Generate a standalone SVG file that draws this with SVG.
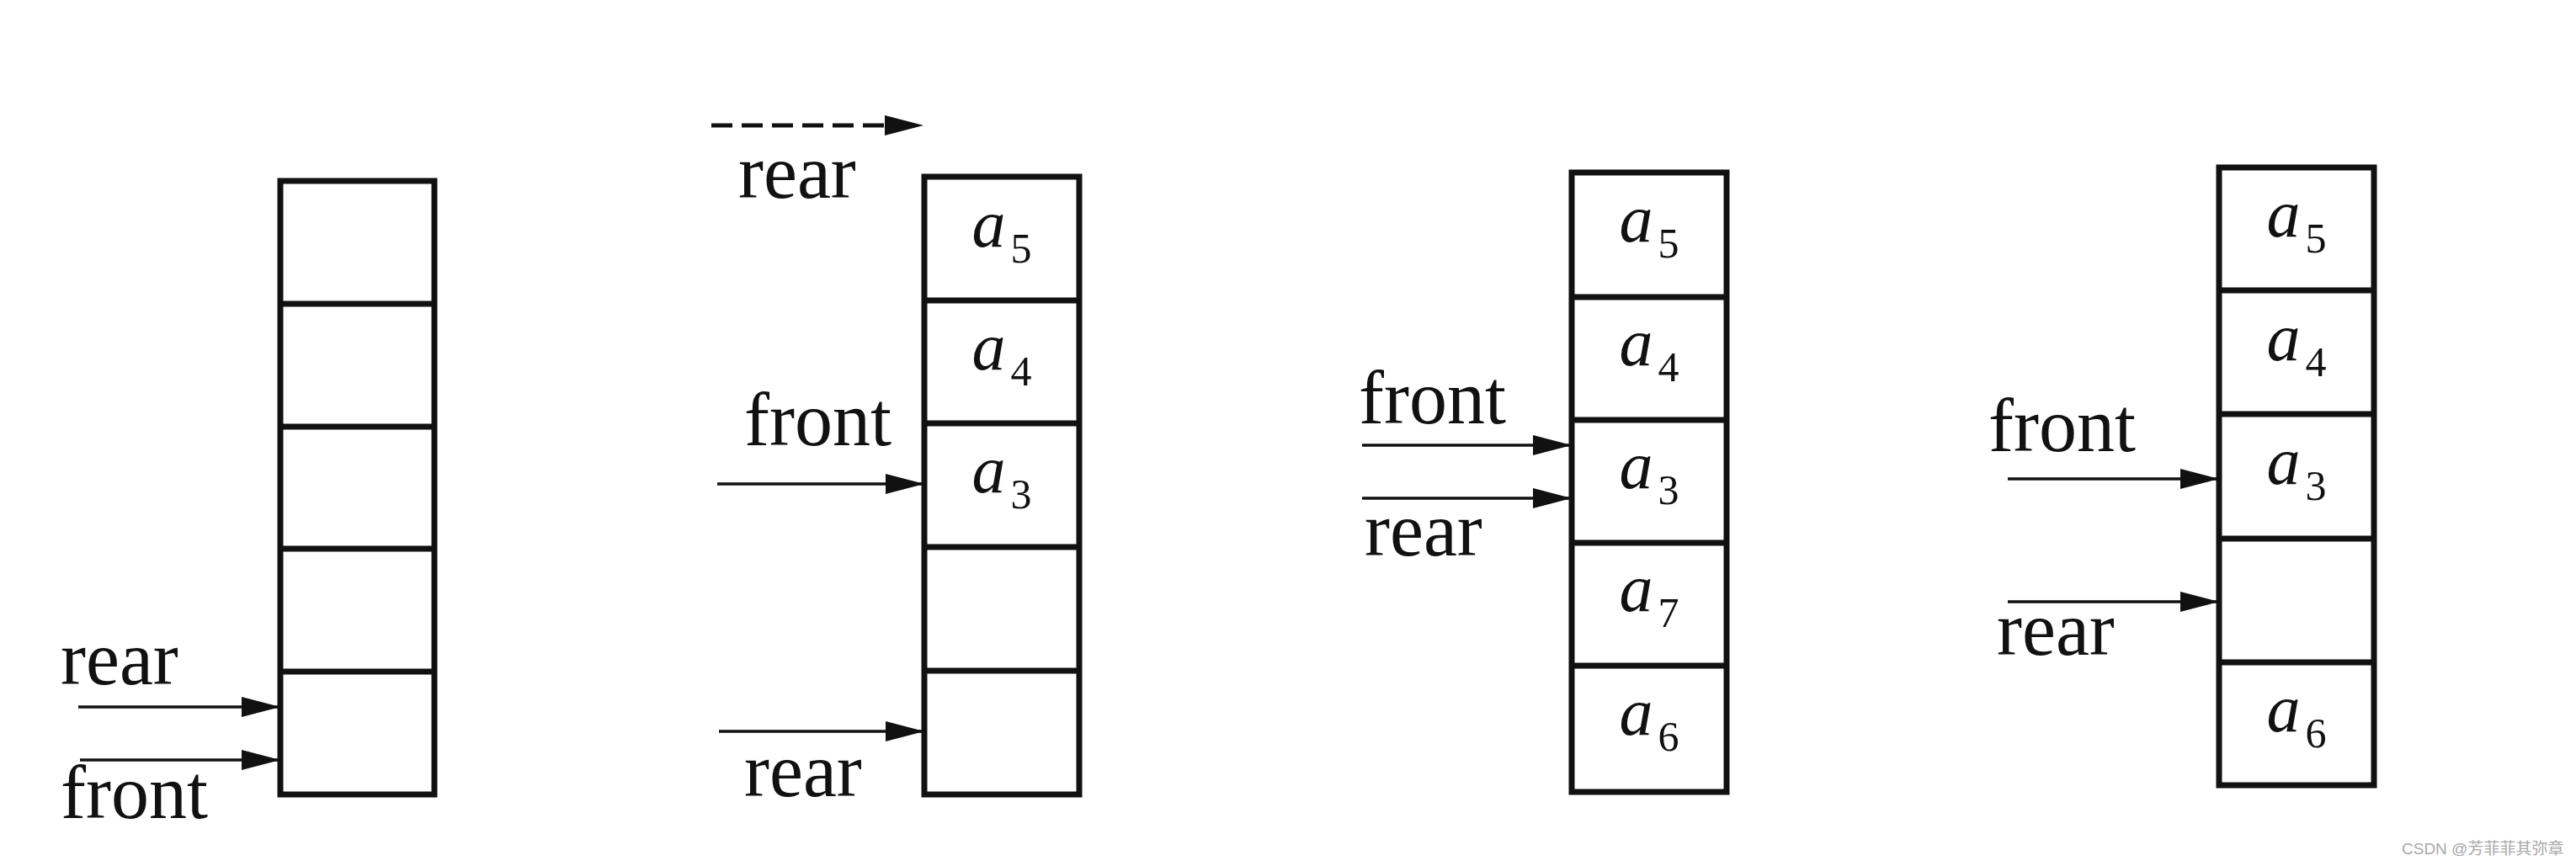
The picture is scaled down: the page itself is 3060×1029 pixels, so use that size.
<svg xmlns="http://www.w3.org/2000/svg" width="3060" height="1029" viewBox="0 0 3060 1029">
<defs>
<style>
.cell{fill:#fff;stroke:#111;stroke-width:7}
.div{stroke:#111;stroke-width:7}
.lbl{font-family:"Liberation Serif","Times New Roman",serif;font-size:90px;fill:#111}
.el{font-family:"Liberation Serif","Times New Roman",serif;font-size:80px;fill:#111;text-anchor:middle}
.el .i{font-style:italic}
.el .s{font-size:50px}
.arr{stroke:#111;stroke-width:3.5;fill:none;marker-end:url(#ah)}
.dash{stroke-width:5;stroke-dasharray:25 11}
.wm{font-family:"Liberation Sans","Noto Sans CJK SC",sans-serif;font-size:19px;fill:#a8a8a8}
</style>
<marker id="ah" markerUnits="userSpaceOnUse" markerWidth="48" markerHeight="26" refX="46" refY="13" orient="auto">
<path d="M0,1 L46,13 L0,25 Z" fill="#111"/>
</marker>
</defs>
<rect width="3060" height="1029" fill="#fff"/>

<g id="stack1">
<rect class="cell" x="333" y="215" width="183" height="729"/>
<line class="div" x1="333" y1="361" x2="516" y2="361"/>
<line class="div" x1="333" y1="507" x2="516" y2="507"/>
<line class="div" x1="333" y1="652" x2="516" y2="652"/>
<line class="div" x1="333" y1="798" x2="516" y2="798"/>
</g>

<g id="stack2">
<rect class="cell" x="1098" y="210" width="184" height="734"/>
<line class="div" x1="1098" y1="357" x2="1282" y2="357"/>
<line class="div" x1="1098" y1="503" x2="1282" y2="503"/>
<line class="div" x1="1098" y1="650" x2="1282" y2="650"/>
<line class="div" x1="1098" y1="797" x2="1282" y2="797"/>
<text class="el" x="1190" y="293"><tspan class="i">a</tspan><tspan class="s" dx="6" dy="19">5</tspan></text>
<text class="el" x="1190" y="439"><tspan class="i">a</tspan><tspan class="s" dx="6" dy="19">4</tspan></text>
<text class="el" x="1190" y="585"><tspan class="i">a</tspan><tspan class="s" dx="6" dy="19">3</tspan></text>
</g>

<g id="stack3">
<rect class="cell" x="1867" y="205" width="184" height="736"/>
<line class="div" x1="1867" y1="353" x2="2051" y2="353"/>
<line class="div" x1="1867" y1="499" x2="2051" y2="499"/>
<line class="div" x1="1867" y1="645" x2="2051" y2="645"/>
<line class="div" x1="1867" y1="791" x2="2051" y2="791"/>
<text class="el" x="1959" y="287"><tspan class="i">a</tspan><tspan class="s" dx="6" dy="19">5</tspan></text>
<text class="el" x="1959" y="434"><tspan class="i">a</tspan><tspan class="s" dx="6" dy="19">4</tspan></text>
<text class="el" x="1959" y="580"><tspan class="i">a</tspan><tspan class="s" dx="6" dy="19">3</tspan></text>
<text class="el" x="1959" y="726"><tspan class="i">a</tspan><tspan class="s" dx="6" dy="19">7</tspan></text>
<text class="el" x="1959" y="873"><tspan class="i">a</tspan><tspan class="s" dx="6" dy="19">6</tspan></text>
</g>

<g id="stack4">
<rect class="cell" x="2636" y="199" width="184" height="734"/>
<line class="div" x1="2636" y1="345" x2="2820" y2="345"/>
<line class="div" x1="2636" y1="492" x2="2820" y2="492"/>
<line class="div" x1="2636" y1="640" x2="2820" y2="640"/>
<line class="div" x1="2636" y1="787" x2="2820" y2="787"/>
<text class="el" x="2728" y="281"><tspan class="i">a</tspan><tspan class="s" dx="6" dy="19">5</tspan></text>
<text class="el" x="2728" y="428"><tspan class="i">a</tspan><tspan class="s" dx="6" dy="19">4</tspan></text>
<text class="el" x="2728" y="575"><tspan class="i">a</tspan><tspan class="s" dx="6" dy="19">3</tspan></text>
<text class="el" x="2728" y="869"><tspan class="i">a</tspan><tspan class="s" dx="6" dy="19">6</tspan></text>
</g>

<g id="labels">
<text class="lbl" x="72" y="813">rear</text>
<text class="lbl" x="72" y="972">front</text>
<text class="lbl" x="877" y="235">rear</text>
<text class="lbl" x="884" y="529">front</text>
<text class="lbl" x="884" y="946">rear</text>
<text class="lbl" x="1614" y="503">front</text>
<text class="lbl" x="1621" y="660">rear</text>
<text class="lbl" x="2362" y="536">front</text>
<text class="lbl" x="2372" y="778">rear</text>
</g>

<g id="connectors">
<line class="arr" x1="93" y1="840" x2="333" y2="840"/>
<line class="arr" x1="95" y1="903" x2="333" y2="903"/>
<line class="arr dash" x1="845" y1="149" x2="1097" y2="149"/>
<line class="arr" x1="852" y1="575" x2="1098" y2="575"/>
<line class="arr" x1="854" y1="869" x2="1098" y2="869"/>
<line class="arr" x1="1618" y1="529" x2="1867" y2="529"/>
<line class="arr" x1="1618" y1="592" x2="1867" y2="592"/>
<line class="arr" x1="2385" y1="569" x2="2636" y2="569"/>
<line class="arr" x1="2385" y1="715" x2="2636" y2="715"/>
</g>

<text class="wm" x="2853" y="1015">CSDN @芳菲菲其弥章</text>
</svg>
